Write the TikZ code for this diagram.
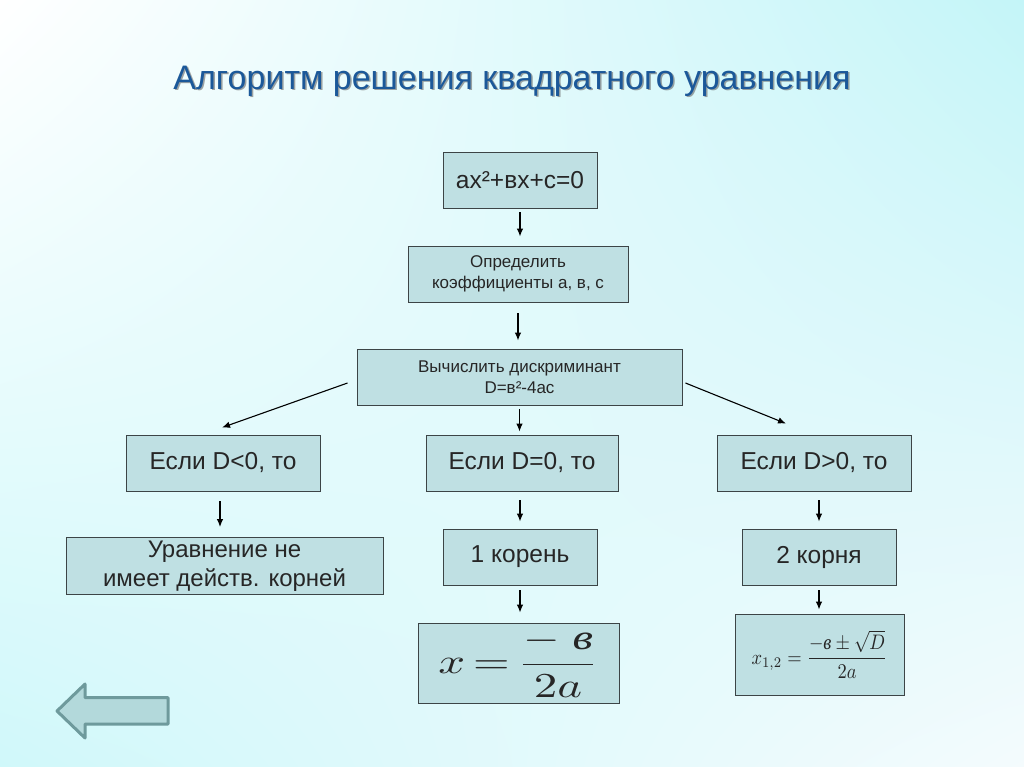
\documentclass[tikz,border=0pt]{standalone}
\usepackage{amsmath}
\usepackage[no-math]{fontspec}
\setmainfont{Liberation Sans}
\newfontfamily\tms{Liberation Serif}
\usetikzlibrary{arrows.meta,shadings}
\definecolor{boxfill}{HTML}{BFE0E3}
\definecolor{boxline}{HTML}{3C4446}
\definecolor{titleblue}{HTML}{1B5899}
\definecolor{bgcyan}{HTML}{C4F5F8}
\definecolor{bgcyan2}{HTML}{D0F8FA}
\definecolor{bgwhite}{HTML}{F4FBFD}
\definecolor{backfill}{HTML}{B3D9DB}
\definecolor{backline}{HTML}{6E9A9C}
\tikzset{
  box/.style={draw=boxline, line width=0.9pt, fill=boxfill, inner sep=0pt, align=center, text=black!85},
  big/.style={font=\fontsize{24.5}{27}\selectfont},
  small/.style={font=\fontsize{17}{21}\selectfont},
  arr/.style={line width=1.1pt, -{Latex[length=8pt,width=6.5pt]}},
  ttl/.style={font=\fontsize{34}{38}\selectfont},
}
\begin{document}
\begin{tikzpicture}[x=1pt,y=-1pt]
\useasboundingbox (0,0) rectangle (1024,767);
\shade[upper left=white, upper right=bgcyan, lower left=bgcyan2, lower right=bgwhite] (0,0) rectangle (1024,767);

% title
\node[ttl, text=black!60, opacity=0.6] (titleshadow) at (513.5,82.5) {Алгоритм решения квадратного уравнения};
\node[ttl, text=titleblue] (title) at (512,81) {Алгоритм решения квадратного уравнения};

% boxes
\node[box, big, minimum width=154pt, minimum height=56pt] (b1) at (520,180) {ax²+вх+с=0};
\node[box, small, minimum width=220pt, minimum height=56pt] (b2) at (518,274) {Определить\\коэффициенты а, в, с};
\node[box, small, minimum width=325pt, minimum height=56pt] (b3) at (519.5,377) {Вычислить дискриминант\\D=в²-4ас};
\node[box, big, minimum width=194pt, minimum height=56pt] (b4) at (223,463) {Если D<0, то};
\node[box, big, minimum width=192pt, minimum height=56pt] (b5) at (522,463) {Если D=0, то};
\node[box, big, minimum width=194pt, minimum height=56pt] (b6) at (814,463) {Если D>0, то};
\node[box, font=\fontsize{24}{29}\selectfont, minimum width=317pt, minimum height=57pt] (b7) at (224.5,566) {Уравнение не\\имеет действ. корней};
\node[box, big, minimum width=154pt, minimum height=56pt] (b8) at (520,557) {1 корень};
\node[box, big, minimum width=154pt, minimum height=56pt] (b9) at (819,557) {2 корня};
\node[box, font=\fontsize{10}{12}\selectfont, minimum width=201pt, minimum height=80pt] (b10) at (518.5,663)
  {\scalebox{4.7}[3.5]{$x \mathrel{\mkern-2mu=\mkern-2mu} \dfrac{-\;\mbox{\tms\itshape в}}{2a}$}};
\node[box, font=\fontsize{10}{12}\selectfont, minimum width=169pt, minimum height=81pt] (b11) at (819.5,654.5)
  {\scalebox{1.85}[2.1]{$x_{1,2} = \dfrac{-\mbox{\tms\itshape в}\pm\sqrt{D}}{2a}$}};

% connectors
\draw[arr, shorten <=4pt, shorten >=9pt] (b1.south) -- (b1.south |- b2.north);
\draw[arr, shorten <=11pt, shorten >=8pt] (b2.south) -- (b2.south |- b3.north);
\draw[arr, shorten <=4pt, shorten >=3pt] (b3.south) -- (b3.south |- b5.north);
\draw[arr] ([xshift=-9pt,yshift=-6pt]b3.west) -- ([xshift=-1pt,yshift=7pt]b4.north);
\draw[arr] ([xshift=3pt,yshift=-6pt]b3.east) -- ([xshift=-28pt,yshift=11pt]b6.north);
\draw[arr, shorten <=10pt, shorten >=10pt] ([xshift=-3pt]b4.south) -- ([xshift=-3pt]b4.south |- b7.north);
\draw[arr, shorten <=9pt, shorten >=7pt] (b8.north |- b5.south) -- (b8.north);
\draw[arr, shorten <=9pt, shorten >=7pt] (b9.north |- b6.south) -- (b9.north);
\draw[arr, shorten <=5pt, shorten >=10pt] (b8.south) -- (b8.south |- b10.north);
\draw[arr, shorten <=5pt, shorten >=4pt] (b9.south) -- (b9.south |- b11.north);

% back arrow
\draw[fill=backfill, draw=backline, line width=3pt, line join=round]
  (57,711) -- (85,684) -- (85,697.5) -- (168,697.5) -- (168,724) -- (85,724) -- (85,738) -- cycle;
\end{tikzpicture}
\end{document}
